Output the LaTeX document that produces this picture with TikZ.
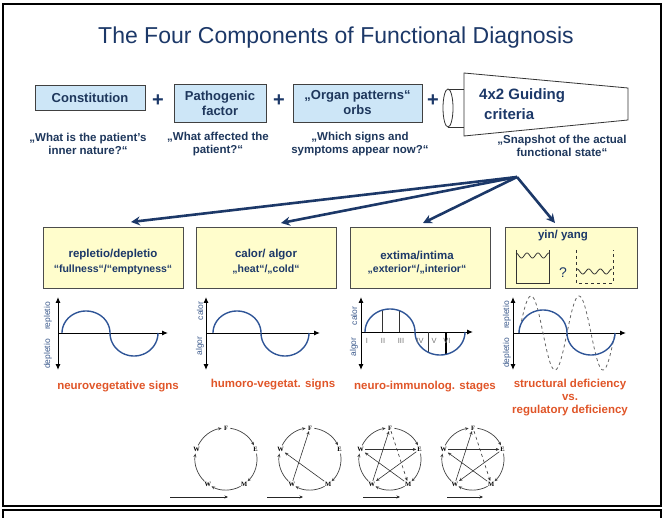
\documentclass[tikz,border=0pt]{standalone}
\usepackage{fontspec}
\setmainfont{Liberation Sans}
\newfontfamily\serifletters{Liberation Serif}
\usetikzlibrary{arrows.meta}
\definecolor{navy}{RGB}{28,56,104}
\definecolor{boxtext}{RGB}{30,55,92}
\definecolor{lblue}{RGB}{205,230,247}
\definecolor{lyellow}{RGB}{255,253,204}
\definecolor{curveblue}{RGB}{47,85,151}
\definecolor{axlbl}{RGB}{60,90,140}
\definecolor{captioncol}{RGB}{224,85,40}
\definecolor{numgray}{RGB}{115,115,115}
\tikzset{
  topbox/.style={draw=black!75, fill=lblue, line width=0.8pt, text=boxtext,
    font=\fontsize{13}{15}\selectfont\bfseries, align=center, inner sep=0pt},
  subq/.style={text=boxtext, font=\fontsize{11.5}{13}\selectfont\bfseries, align=center, inner sep=0pt},
  plussign/.style={text=navy, font=\fontsize{20}{20}\selectfont\bfseries, inner sep=0pt},
  telebody/.style={draw=black!80, fill=white, line width=0.8pt},
  teletext/.style={text=navy, font=\fontsize{15}{17}\selectfont\bfseries, inner sep=0pt, anchor=west},
  fanarrow/.style={draw=navy, line width=2.6pt, -{Stealth[length=9pt,width=9pt]}},
  ybox/.style={draw=black!70, fill=lyellow, line width=0.8pt, inner sep=0pt},
  yhead/.style={text=navy, font=\fontsize{11.5}{13}\selectfont\bfseries, inner sep=0pt},
  ysub/.style={text=navy, font=\fontsize{10.5}{12}\selectfont\bfseries, inner sep=0pt},
  axisline/.style={draw=black, line width=1pt},
  axtip/.style={{Latex[length=6pt,width=5pt]}-{Latex[length=6pt,width=5pt]}},
  axtipr/.style={-{Latex[length=6pt,width=5pt]}},
  sinecurve/.style={draw=curveblue, line width=1.4pt},
  axlabel/.style={text=axlbl, font=\fontsize{8.5}{8.5}\selectfont, rotate=90, inner sep=0pt},
  captxt/.style={text=captioncol, font=\fontsize{11.5}{13}\selectfont\bfseries, align=center, inner sep=0pt},
  romannum/.style={text=numgray, font=\fontsize{7.5}{8}\selectfont, inner sep=0pt},
  phase/.style={font=\serifletters\bfseries\fontsize{6.5}{6.5}\selectfont, inner sep=0.8pt},
  cyclearc/.style={draw=black!75, line width=0.7pt, -{Stealth[length=3.5pt,width=3pt]}},
  ctrl/.style={draw=black!80, line width=0.6pt, -{Stealth[length=3.5pt,width=3pt]}},
  timearrow/.style={draw=black!85, line width=0.7pt, -{Stealth[length=3.5pt,width=3pt]}},
}
\newcommand\phasecircle[2]{%
  \begin{scope}[shift={(#2,459)}, yscale=-1]
    \node[phase] (#1F) at (90:31) {F};
    \node[phase] (#1E) at (18:31) {E};
    \node[phase] (#1M) at (-54:31) {M};
    \node[phase] (#1Wl) at (-126:31) {W};
    \node[phase] (#1Wu) at (162:31) {W};
    \draw[cyclearc] (82:31) arc[start angle=82, end angle=26, radius=31];
    \draw[cyclearc] (10:31) arc[start angle=10, end angle=-46, radius=31];
    \draw[cyclearc] (-62:31) arc[start angle=-62, end angle=-118, radius=31];
    \draw[cyclearc] (-134:31) arc[start angle=-134, end angle=-190, radius=31];
    \draw[cyclearc] (154:31) arc[start angle=154, end angle=98, radius=31];
  \end{scope}}
\begin{document}
\begin{tikzpicture}[x=1pt,y=-1pt]
\useasboundingbox (0,0) rectangle (666,518);
% frames
\draw[line width=1.5pt] (3,4) rectangle (661,506);
\draw[line width=1.2pt] (3,518) -- (3,510) -- (661,510) -- (661,518);

% title
\node[text=navy, font=\fontsize{23}{26}\selectfont, inner sep=0pt] (title) at (336,38) {The Four Components of Functional Diagnosis};

% top row
\node[topbox, minimum width=110, minimum height=25] (const) at (90,98) {Constitution};
\node[plussign] (plus1) at (158,101) {+};
\node[topbox, minimum width=92, minimum height=38] (patho) at (220,103) {Pathogenic\\factor};
\node[plussign] (plus2) at (279,101) {+};
\node[topbox, minimum width=129, minimum height=38] (organ) at (357.5,103) {„Organ patterns“\\orbs};
\node[plussign] (plus3) at (433,101) {+};

% telescope
\draw[telebody] (448,89) -- (464,89) -- (464,127) -- (448,127);
\draw[telebody] (448,108) ellipse[x radius=5, y radius=19];
\draw[telebody] (464,73) -- (628,88) -- (628,120) -- (464,136) -- cycle;
\node[teletext] (tele1) at (479,96) {4x2 Guiding};
\node[teletext] (tele2) at (484,114) {criteria};

% questions
\node[subq] (q1) at (88,144) {„What is the patient’s\\inner nature?“};
\node[subq] (q2) at (218,144) {„What affected the\\patient?“};
\node[subq] (q3) at (360,144) {„Which signs and\\symptoms appear now?“};
\node[subq] (q4) at (562,146) {„Snapshot of the actual\\functional state“};

% fan of arrows
\coordinate (hub) at (517,177);
\coordinate (t1) at (131,222);
\coordinate (t2) at (281,223);
\coordinate (t3) at (423,223);
\coordinate (t4) at (555,223);
\draw[fanarrow] (hub) -- (t1);
\draw[fanarrow] (hub) -- (t2);
\draw[fanarrow] (hub) -- (t3);
\draw[fanarrow] (hub) -- (t4);

% yellow boxes
\node[ybox, minimum width=140, minimum height=61] (b1) at (113,257.5) {};
\node[ybox, minimum width=140, minimum height=61] (b2) at (266,257.5) {};
\node[ybox, minimum width=140, minimum height=61] (b3) at (420,257.5) {};
\node[ybox, minimum width=132, minimum height=61] (b4) at (571,257.5) {};
\node[yhead] (h1) at (113,255) {repletio/depletio};
\node[ysub] (s1) at (113,270) {“fullness“/“emptyness“};
\node[yhead] (h2) at (266,255) {calor/ algor};
\node[ysub] (s2) at (266,270) {„heat“/„cold“};
\node[yhead] (h3) at (417,255) {extima/intima};
\node[ysub] (s3) at (417,270) {„exterior“/„interior“};
\node[yhead] (h4) at (563,236) {yin/ yang};
% vessels
\draw[black!80, line width=0.8pt] (516,250) -- (516,283) -- (549,283) -- (549,250);
\draw[black!80, line width=0.8pt] plot[domain=0:33, samples=60] ({516+\x},{255.5-2.5*cos(\x*32.727)});
\node[text=navy, font=\fontsize{14}{14}\selectfont, inner sep=0pt] (qmark) at (563,273) {?};
\draw[black!80, line width=0.8pt, dashed] (576,250) -- (576,283) -- (613,283) -- (613,250);
\draw[black!80, line width=0.8pt] plot[domain=0:35, samples=60] ({577+\x},{271.5-2.5*cos(\x*30.857)});

% graph 1
\draw[axisline, axtip] (58,297) -- (58,370);
\draw[axisline, axtipr] (58,333) -- (168,333);
\draw[sinecurve] plot[domain=0:180, samples=40] ({86-24*cos(\x)},{333-22*sin(\x)})
  -- plot[domain=0:180, samples=40] ({134-24*cos(\x)},{333+23*sin(\x)});
\node[axlabel] (g1a) at (48,316) {repletio};
\node[axlabel] (g1b) at (48,354) {depletio};
\node[captxt] (c1) at (118,387) {neurovegetative signs};

% graph 2
\draw[axisline, axtip] (206,297) -- (206,370);
\draw[axisline, axtipr] (206,333) -- (320,333);
\draw[sinecurve] plot[domain=0:180, samples=40] ({237-24*cos(\x)},{333-22*sin(\x)})
  -- plot[domain=0:180, samples=40] ({285-24*cos(\x)},{333+23*sin(\x)});
\node[axlabel] (g2a) at (200,311) {calor};
\node[axlabel] (g2b) at (200,346) {algor};
\node[captxt] (c2) at (273,385) {humoro-vegetat. signs};

% graph 3
\draw[axisline, axtip] (361,297) -- (361,370);
\draw[axisline, axtipr] (361,332) -- (473,332);
\draw[black!80, line width=0.6pt] (382,332) -- (382,310.5);
\draw[black!80, line width=0.6pt] (399,332) -- (399,310.8);
\draw[black!80, line width=0.6pt] (428,332) -- (428,352.2);
\draw[black, line width=1.2pt] (446,332) -- (446,354.3);
\draw[sinecurve] plot[domain=0:180, samples=40] ({390-25*cos(\x)},{332-23*sin(\x)})
  -- plot[domain=0:180, samples=40] ({440-25*cos(\x)},{332+23*sin(\x)});
\node[romannum] (r1) at (367,341) {I};
\node[romannum] (r2) at (383,341) {II};
\node[romannum] (r3) at (401,341) {III};
\node[romannum] (r4) at (420,341) {IV};
\node[romannum] (r5) at (434,341) {V};
\node[romannum] (r6) at (447,341) {VI};
\node[axlabel] (g3a) at (354,316) {calor};
\node[axlabel] (g3b) at (354,347) {algor};
\node[captxt] (c3) at (425,387) {neuro-immunolog. stages};

% graph 4
\draw[axisline, axtip] (513,297) -- (513,370);
\draw[axisline, axtipr] (513,333) -- (626,333);
\draw[black!60, line width=0.8pt, dashed] plot[domain=0:720, samples=120] ({519+\x*0.13333},{333-37*sin(\x)});
\draw[sinecurve] plot[domain=0:180, samples=40] ({543-24*cos(\x)},{333-23*sin(\x)})
  -- plot[domain=0:180, samples=40] ({591-24*cos(\x)},{333+22*sin(\x)});
\node[axlabel] (g4a) at (507,315) {repletio};
\node[axlabel] (g4b) at (507,353) {depletio};
\node[captxt] (c4) at (570,398) {structural deficiency\\vs.\\regulatory deficiency};

% five-phase circles
\phasecircle{ca}{226}
\phasecircle{cb}{310}
\phasecircle{cc}{390}
\phasecircle{cd}{473}
\draw[ctrl] (cbM) -- (cbWu);
\draw[ctrl] (cbWl) -- (cbF);
\draw[ctrl, line width=1pt] (ccWu) -- (ccE);
\draw[ctrl] (ccE) -- (ccWl);
\draw[ctrl] (ccWl) -- (ccF);
\draw[ctrl, dashed] (ccF) -- (ccM);
\draw[ctrl] (ccM) -- (ccWu);
\draw[ctrl] (cdWu) -- (cdE);
\draw[ctrl] (cdE) -- (cdWl);
\draw[ctrl] (cdWl) -- (cdF);
\draw[ctrl, dashed] (cdF) -- (cdM);
\draw[ctrl] (cdM) -- (cdWu);
% time arrows
\coordinate (ta1) at (170,497); \coordinate (tb1) at (228,497);
\coordinate (ta2) at (267,497); \coordinate (tb2) at (303,497);
\coordinate (ta3) at (363,497); \coordinate (tb3) at (400,497);
\coordinate (ta4) at (447,497); \coordinate (tb4) at (483,497);
\draw[timearrow] (ta1) -- (tb1);
\draw[timearrow] (ta2) -- (tb2);
\draw[timearrow] (ta3) -- (tb3);
\draw[timearrow] (ta4) -- (tb4);
\end{tikzpicture}
\end{document}
